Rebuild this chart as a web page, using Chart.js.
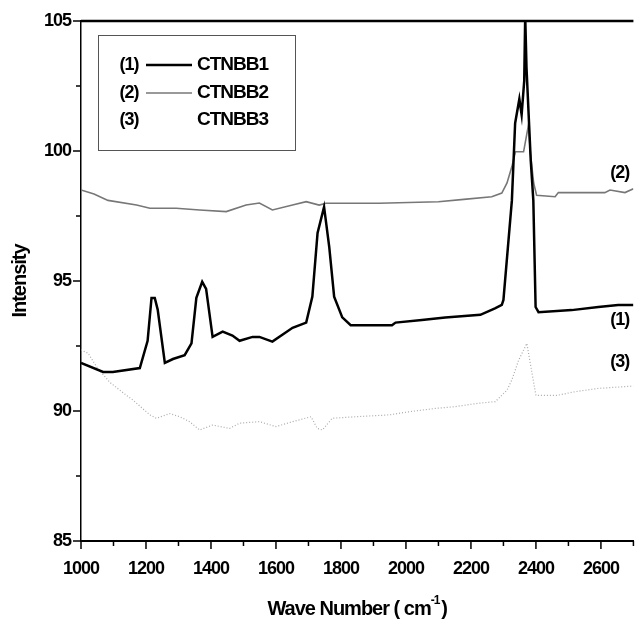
<!DOCTYPE html>
<html>
<head>
<meta charset="utf-8">
<script src="https://cdn.jsdelivr.net/npm/chart.js@4.4.0/dist/chart.umd.min.js"></script>
<style>
  html, body { margin: 0; padding: 0; background: #fff; }
</style>
</head>
<body>
<canvas id="spectra" width="638" height="625"></canvas>
<script>
// wave numbers (cm-1) and intensities
const wn1 = [1000,1068,1098,1181,1205,1217,1227,1236,1258,1283,1319,1340,1355,1373,1385,1405,1436,1466,1488,1528,1549,1589,1651,1693,1712,1728,1748,1764,1779,1804,1830,1957,1968,2049,2121,2229,2274,2295,2300,2326,2336,2349,2356,2364,2367,2371,2384,2392,2399,2408,2510,2592,2653,2700];
const int1 = [91.85,91.5,91.5,91.65,92.7,94.35,94.35,93.9,91.85,92.0,92.15,92.6,94.35,94.97,94.7,92.85,93.05,92.9,92.7,92.85,92.85,92.67,93.2,93.4,94.4,96.85,97.85,96.3,94.4,93.6,93.3,93.3,93.4,93.5,93.6,93.7,93.95,94.08,94.27,98.1,101.07,102.0,101.4,102.7,105.2,103.2,99.65,98.1,94.0,93.8,93.88,94.0,94.08,94.08];

const wn2 = [1000,1040,1083,1171,1212,1293,1365,1447,1508,1549,1589,1651,1693,1733,1754,1917,2100,2178,2264,2295,2311,2326,2337,2362,2377,2383,2393,2402,2459,2469,2612,2628,2674,2700];
const int2 = [98.5,98.35,98.1,97.92,97.8,97.8,97.73,97.67,97.92,98.0,97.73,97.92,98.05,97.92,97.99,97.99,98.05,98.14,98.24,98.38,98.77,99.4,99.97,99.97,101.0,99.92,98.77,98.3,98.24,98.4,98.4,98.5,98.4,98.55];

const wn3 = [1000,1022,1048,1089,1140,1160,1212,1232,1273,1304,1334,1365,1405,1457,1488,1549,1600,1651,1708,1727,1743,1773,1846,1948,2009,2091,2152,2224,2275,2311,2326,2347,2372,2388,2400,2464,2520,2592,2700];
const int3 = [92.35,92.22,91.7,91.1,90.6,90.42,89.85,89.72,89.9,89.78,89.59,89.27,89.46,89.33,89.53,89.59,89.4,89.59,89.78,89.33,89.27,89.72,89.78,89.85,89.97,90.1,90.17,90.3,90.36,90.8,91.2,91.96,92.6,91.45,90.6,90.6,90.74,90.87,90.96];

const seriesNames = ['CTNBB1', 'CTNBB2', 'CTNBB3'];
const seriesTags = ['(1)', '(2)', '(3)'];
// where the (n) tags sit, in data units
const tagX = [2658, 2658, 2658];
const tagY = [93.5, 99.15, 91.88];

const xTicks = [1000, 1200, 1400, 1600, 1800, 2000, 2200, 2400, 2600];
const yTicks = [85, 90, 95, 100, 105];

const FONT = "'Liberation Sans', Arial, sans-serif";

function pts(xs, ys) {
  return xs.map((v, i) => ({ x: v, y: ys[i] }));
}

function line(ctx, x1, y1, x2, y2) {
  ctx.beginPath();
  ctx.moveTo(x1, y1);
  ctx.lineTo(x2, y2);
  ctx.stroke();
}

const extras = {
  id: 'extras',
  beforeDraw(chart) {
    chart.ctx.letterSpacing = '-1px';
  },
  afterDraw(chart) {
    const { ctx, chartArea: a, scales: { x, y } } = chart;
    ctx.save();
    ctx.strokeStyle = '#000';
    ctx.fillStyle = '#000';

    // top frame line
    ctx.lineWidth = 2.5;
    line(ctx, a.left, a.top, a.right, a.top);

    // ticks, outward
    ctx.lineWidth = 1.5;
    for (let v = 1000; v <= 2700; v += 100) {
      const px = x.getPixelForValue(v);
      line(ctx, px, a.bottom, px, a.bottom + (v % 200 === 0 ? 8 : 5));
    }
    for (let v = 85; v <= 105; v += 2.5) {
      const py = y.getPixelForValue(v);
      line(ctx, a.left, py, a.left - (v % 5 === 0 ? 8 : 5), py);
    }

    // curve tags
    ctx.font = 'bold 18px ' + FONT;
    ctx.textAlign = 'center';
    ctx.textBaseline = 'middle';
    seriesTags.forEach((t, i) => {
      ctx.fillText(t, x.getPixelForValue(tagX[i]), y.getPixelForValue(tagY[i]));
    });

    // legend box
    ctx.lineWidth = 1;
    ctx.strokeStyle = '#555';
    ctx.strokeRect(98.5, 35.5, 197, 115);
    const rows = [65, 93, 120];
    const styles = chart.data.datasets;
    rows.forEach((ry, i) => {
      ctx.fillStyle = '#000';
      ctx.font = 'bold 18px ' + FONT;
      ctx.textAlign = 'center';
      ctx.fillText(seriesTags[i], 129, ry);
      ctx.textAlign = 'left';
      ctx.font = 'bold 19px ' + FONT;
      ctx.fillText(seriesNames[i], 197, ry);
      if (i < 2) {
        ctx.strokeStyle = styles[i].borderColor;
        ctx.lineWidth = styles[i].borderWidth;
        ctx.setLineDash(styles[i].borderDash || []);
        line(ctx, 146, ry, 192, ry);
        ctx.setLineDash([]);
      }
    });

    // axis titles
    ctx.fillStyle = '#000';
    ctx.textBaseline = 'alphabetic';
    ctx.font = 'bold 20px ' + FONT;
    const t1 = 'Wave Number ( cm';
    const t3 = ')';
    const w1 = ctx.measureText(t1).width;
    const w3 = ctx.measureText(t3).width;
    ctx.font = 'bold 12px ' + FONT;
    const w2 = ctx.measureText('-1').width;
    let sx = (a.left + a.right) / 2 - (w1 + w2 + w3 + 2) / 2;
    ctx.textAlign = 'left';
    ctx.font = 'bold 20px ' + FONT;
    ctx.fillText(t1, sx, 615);
    ctx.font = 'bold 12px ' + FONT;
    ctx.fillText('-1', sx + w1, 604);
    ctx.font = 'bold 20px ' + FONT;
    ctx.fillText(t3, sx + w1 + w2 + 2, 615);

    ctx.translate(20, (a.top + a.bottom) / 2);
    ctx.rotate(-Math.PI / 2);
    ctx.textAlign = 'center';
    ctx.textBaseline = 'middle';
    ctx.fillText('Intensity', 0, 0);
    ctx.restore();
  }
};

new Chart(document.getElementById('spectra'), {
  type: 'line',
  data: {
    datasets: [{
      label: seriesNames[0],
      data: pts(wn1, int1),
      borderColor: '#000',
      borderWidth: 2.5
    }, {
      label: seriesNames[1],
      data: pts(wn2, int2),
      borderColor: '#777',
      borderWidth: 1.6
    }, {
      label: seriesNames[2],
      data: pts(wn3, int3),
      borderColor: '#aaa',
      borderWidth: 1.2,
      borderDash: [1, 2]
    }]
  },
  options: {
    responsive: false,
    animation: false,
    layout: { padding: { top: 21, right: 1, left: 0, bottom: 0 } },
    elements: { point: { radius: 0 }, line: { tension: 0 } },
    plugins: { legend: { display: false }, tooltip: { enabled: false } },
    scales: {
      x: {
        type: 'linear',
        min: 1000,
        max: 2700,
        afterFit: (s) => { s.height = 84; },
        afterBuildTicks: (s) => { s.ticks = xTicks.map(v => ({ value: v })); },
        ticks: {
          padding: 17,
          color: '#000',
          font: { family: FONT, size: 18, weight: 'bold' },
          callback: (v) => String(v)
        },
        grid: { display: false, drawTicks: false },
        border: { display: true, color: '#000', width: 2 }
      },
      y: {
        min: 85,
        max: 105,
        afterFit: (s) => { s.width = 81; },
        afterBuildTicks: (s) => { s.ticks = yTicks.map(v => ({ value: v })); },
        ticks: {
          padding: 10,
          color: '#000',
          font: { family: FONT, size: 18, weight: 'bold' },
          callback: (v) => String(v)
        },
        grid: { display: false, drawTicks: false },
        border: { display: true, color: '#000', width: 1.5 }
      }
    }
  },
  plugins: [extras]
});
</script>
</body>
</html>
